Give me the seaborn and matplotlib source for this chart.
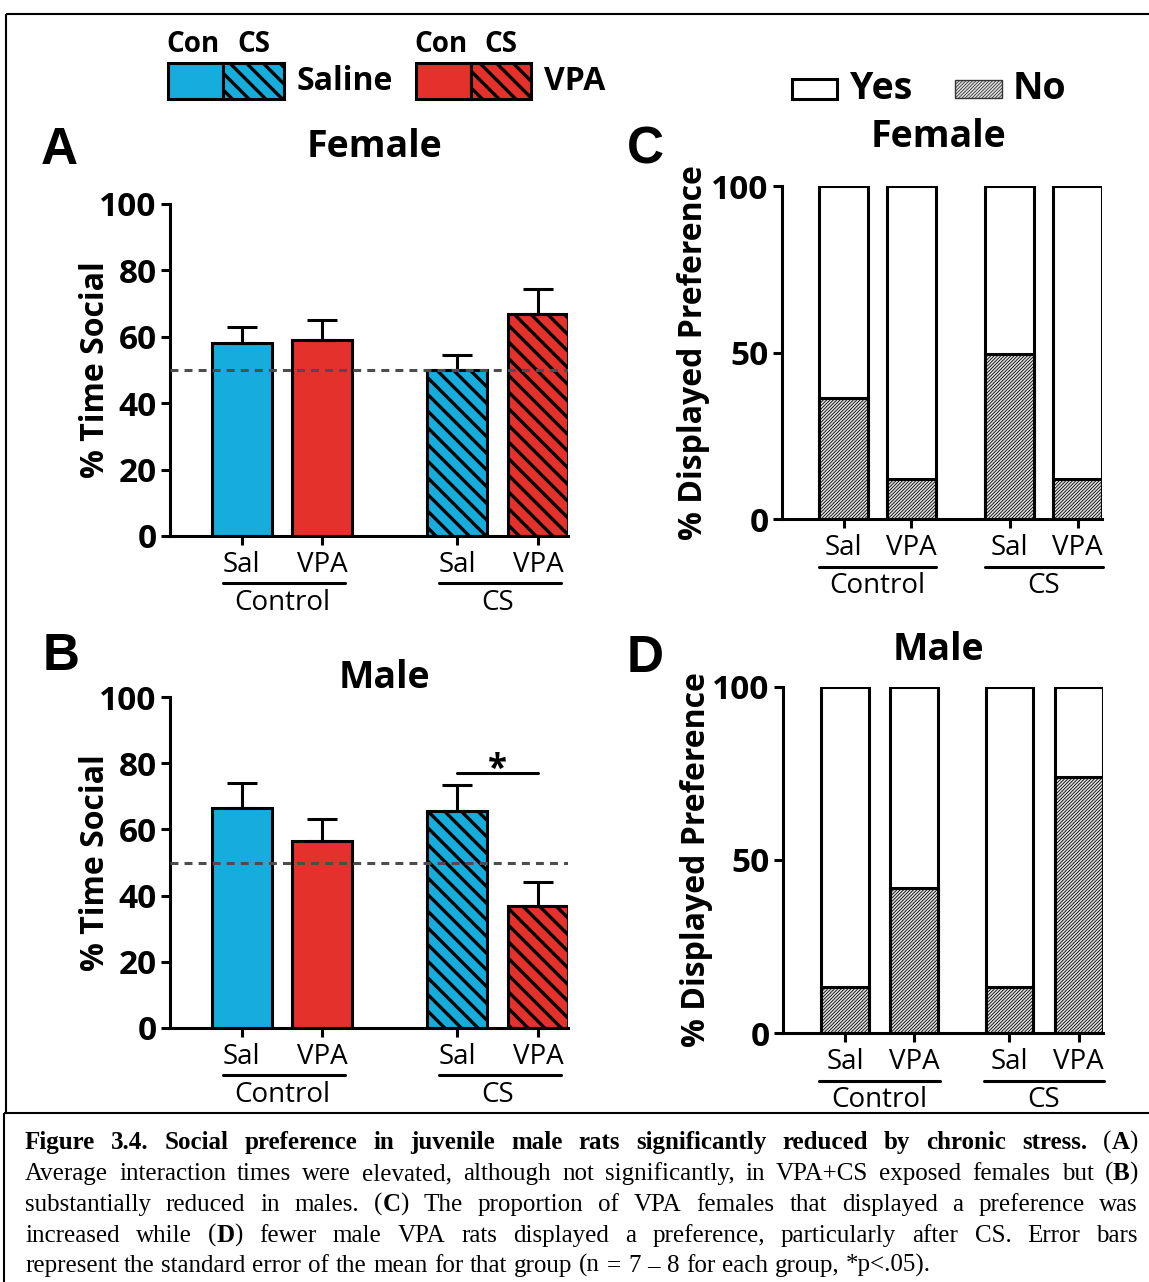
import numpy as np
import pandas as pd
import matplotlib
matplotlib.use("Agg")
import matplotlib.pyplot as plt
import matplotlib.transforms as mtransforms
from matplotlib.patches import Rectangle
from matplotlib.lines import Line2D
import seaborn as sns

# ---------------- data ----------------
treatments = ["Sal", "VPA", "Sal", "VPA"]
conditions = ["Control", "Control", "CS", "CS"]
group_names = ["Control", "CS"]

female_time_mean = [58.0, 59.0, 50.0, 67.0]
female_time_sem = [5.0, 6.0, 4.5, 7.5]
male_time_mean = [66.5, 56.5, 65.5, 37.0]
male_time_sem = [7.5, 6.5, 8.0, 7.0]
chance_level = 50

female_no_pct = [36.5, 12.0, 49.5, 12.0]
male_no_pct = [13.5, 42.0, 13.5, 74.0]

time_ticks = [0, 20, 40, 60, 80, 100]
pref_ticks = [0, 50, 100]
sig_label = "*"
sig_height = 77.0

caption_lines = [
    "§Figure 3.4. Social preference in juvenile male rats significantly reduced by chronic stress.§ (§A§)",
    "Average interaction times were elevated, although not significantly, in VPA+CS exposed females but (§B§)",
    "substantially reduced in males. (§C§) The proportion of VPA females that displayed a preference was",
    "increased while (§D§) fewer male VPA rats displayed a preference, particularly after CS. Error bars",
    "represent the standard error of the mean for that group (n = 7 – 8 for each group, *p<.05).",
]

# ---------------- style ----------------
sns.set_style("ticks")
plt.rcParams["font.family"] = ["Open Sans", "DejaVu Sans"]
for k in ("text.color", "axes.labelcolor", "xtick.color", "ytick.color"):
    plt.rcParams[k] = "black"
plt.rcParams["hatch.linewidth"] = 2.4
BLUE = "#16acdb"
RED = "#e4312b"
LW = 2.2
COARSE = 2.4
FINE = 0.6
FINE_FACE = "#e2e2e2"
FINE_HATCH = "//////////"
bar_colors = [BLUE, RED, BLUE, RED]
bar_hatch = ["", "", "\\\\", "\\\\"]

W, H = 1149, 1282
fig = plt.figure(figsize=(W / 100, H / 100), dpi=100)
fig.patch.set_facecolor("white")


def rect(x0, yt, x1, yb):
    return [x0 / W, 1 - yb / H, (x1 - x0) / W, (yb - yt) / H]


def set_hlw(p, lw):
    if hasattr(p, "set_hatch_linewidth"):
        p.set_hatch_linewidth(lw)


ov = fig.add_axes([0, 0, 1, 1])
ov.set_xlim(0, W)
ov.set_ylim(H, 0)
ov.axis("off")
ov.set_zorder(-1)


def style_axes(ax, yticks, xpos, xlim):
    sns.despine(ax=ax)
    ax.set_facecolor("none")
    ax.set_ylim(0, 100)
    ax.set_xlim(*xlim)
    ax.set_yticks(yticks)
    ax.set_yticklabels([str(t) for t in yticks], fontsize=24, fontweight="bold")
    ax.set_xticks(xpos)
    ax.set_xticklabels([""] * len(xpos))
    ax.tick_params(axis="both", width=LW, length=6.5, color="black", pad=3)
    for s in ("left", "bottom"):
        ax.spines[s].set_linewidth(LW)
        ax.spines[s].set_color("black")
    ax.set_xlabel("")


def group_labels(ax, xpos, under_l, under_r):
    blend = mtransforms.blended_transform_factory(ax.transData, ax.transAxes)
    for x, t in zip(xpos, treatments):
        ax.annotate(t, xy=(x, 0), xycoords=blend, xytext=(0, -21),
                    textcoords="offset points", ha="center", va="center",
                    fontsize=20, annotation_clip=False)
    for gi, g in enumerate(group_names):
        xa, xb = xpos[2 * gi], xpos[2 * gi + 1]
        tr = mtransforms.offset_copy(blend, fig=fig, y=-34, units="points")
        ax.add_line(Line2D([xa - under_l, xb + under_r], [0, 0], transform=tr,
                           color="black", lw=LW, clip_on=False))
        ax.annotate(g, xy=((xa + xb) / 2, 0), xycoords=blend, xytext=(0, -48),
                    textcoords="offset points", ha="center", va="center",
                    fontsize=20, annotation_clip=False)


def time_panel(box, means, sems, xpos, width, xlim, sig=False):
    ax = fig.add_axes(rect(*box))
    df = pd.DataFrame({"pos": xpos, "mean": means, "condition": conditions})
    n0 = len(ax.patches)
    sns.barplot(data=df, x="pos", y="mean", native_scale=True, width=width,
                errorbar=None, color="white", edgecolor="black", linewidth=LW,
                ax=ax, zorder=2)
    for b, c, h in zip(ax.patches[n0:], bar_colors, bar_hatch):
        b.set_facecolor(c)
        b.set_edgecolor("black")
        b.set_hatch(h)
        set_hlw(b, COARSE)
    ax.errorbar(xpos, means, yerr=[np.zeros(len(means)), sems], fmt="none",
                ecolor="black", elinewidth=LW, capsize=11, capthick=LW, zorder=3)
    ax.axhline(chance_level, color="#4d4d4d", lw=2.2, ls=(0, (2.6, 2.0)), zorder=4)
    if sig:
        ax.plot([xpos[2], xpos[3]], [sig_height, sig_height], color="black", lw=LW,
                zorder=4)
        ax.text((xpos[2] + xpos[3]) / 2, sig_height - 1.8, sig_label, ha="center",
                va="baseline", fontsize=25, fontweight="bold")
    style_axes(ax, time_ticks, xpos, xlim)
    ax.set_ylabel("% Time Social", fontsize=23, fontweight="bold")
    ax.yaxis.set_label_coords(-0.145, 0.5)
    group_labels(ax, xpos, 0.23, 0.28)
    ax.set_xlim(*xlim)
    return ax


def pref_panel(box, no_pct, xpos, width, xlim, label_x):
    ax = fig.add_axes(rect(*box))
    yes_pct = [100 - v for v in no_pct]
    total = [a + b for a, b in zip(no_pct, yes_pct)]
    df = pd.DataFrame({"pos": xpos, "total": total, "no": no_pct})
    sns.barplot(data=df, x="pos", y="total", native_scale=True, width=width,
                errorbar=None, color="white", edgecolor="black", linewidth=LW,
                ax=ax, zorder=2)
    for b in ax.patches:
        b.set_facecolor("white")
    n0 = len(ax.patches)
    with plt.rc_context({"hatch.linewidth": FINE}):
        sns.barplot(data=df, x="pos", y="no", native_scale=True, width=width,
                    errorbar=None, color="white", edgecolor="black", linewidth=LW,
                    ax=ax, zorder=3)
        for b in ax.patches[n0:]:
            b.set_facecolor(FINE_FACE)
            b.set_hatch(FINE_HATCH)
            set_hlw(b, FINE)
    style_axes(ax, pref_ticks, xpos, xlim)
    ax.set_ylabel("% Displayed Preference", fontsize=23, fontweight="bold")
    ax.yaxis.set_label_coords(label_x, 0.5)
    group_labels(ax, xpos, 0.37, 0.37)
    ax.set_xlim(*xlim)
    return ax


posAB = [0, 1, 2.673, 3.673]
time_panel((170, 204, 568, 536), female_time_mean, female_time_sem, posAB, 0.745,
           (-0.891, 4.0455))
time_panel((170, 697, 568, 1028), male_time_mean, male_time_sem, posAB, 0.745,
           (-0.891, 4.0455), sig=True)
pref_panel((781.7, 186, 1102, 519.3), female_no_pct, [0, 1, 2.46, 3.46], 0.725,
           (-0.917, 3.8225), -0.225)
pref_panel((782.7, 686.7, 1102.5, 1033.3), male_no_pct, [0, 1, 2.377, 3.377], 0.69,
           (-0.9, 3.722), -0.217)

# ---------------- titles / letters ----------------
for x, y, t in [(375, 147, "Female"), (384, 678, "Male"), (938, 137, "Female"),
                (938, 650, "Male")]:
    ov.text(x, y, t, ha="center", va="center", fontsize=27, fontweight="bold")
for x, y, t in [(59, 150, "A"), (61, 656, "B"), (645, 150, "C"), (645, 658, "D")]:
    ov.text(x, y, t, ha="center", va="center", fontsize=37, fontweight="bold",
            family="Liberation Sans")

# ---------------- legends ----------------
for (x0, xm, x1, col, name, xt) in [(168, 223, 284, BLUE, "Saline", 296),
                                     (416, 471, 531, RED, "VPA", 544)]:
    ov.add_patch(Rectangle((x0, 63), xm - x0, 36, facecolor=col, edgecolor="black",
                           lw=LW))
    hp = Rectangle((xm, 63), x1 - xm, 36, facecolor=col, edgecolor="black", lw=LW,
                   hatch="\\\\")
    set_hlw(hp, COARSE)
    ov.add_patch(hp)
    ov.text(xt, 81, name, ha="left", va="center", fontsize=23, fontweight="bold")
    ov.text((x0 + xm) / 2 - 2, 44, "Con", ha="center", va="center", fontsize=20,
            fontweight="bold")
    ov.text((xm + x1) / 2, 44, "CS", ha="center", va="center", fontsize=20,
            fontweight="bold")

ov.add_patch(Rectangle((792, 79), 45, 20, facecolor="white", edgecolor="black", lw=LW))
ov.text(850, 89, "Yes", ha="left", va="center", fontsize=27, fontweight="bold")
with plt.rc_context({"hatch.linewidth": FINE}):
    np_ = Rectangle((955, 80), 47, 18, facecolor=FINE_FACE, edgecolor="#333333",
                    lw=1.0, hatch=FINE_HATCH)
    set_hlw(np_, FINE)
    ov.add_patch(np_)
ov.text(1013, 89, "No", ha="left", va="center", fontsize=27, fontweight="bold")

# ---------------- borders ----------------
bk = dict(color="black", lw=1.5, solid_capstyle="butt")
ov.plot([6, W], [14, 14], **bk)
ov.plot([6, 6], [14, 1113], **bk)
ov.plot([4, W], [1113, 1113], **bk)
ov.plot([4, 4], [1113, H], **bk)


# ---------------- caption (justified) ----------------
def parse(line):
    bold = False
    words, cur = [], []
    for ch in line:
        if ch == "§":
            bold = not bold
            continue
        if ch == " ":
            if cur:
                words.append(cur)
                cur = []
        else:
            cur.append((ch, bold))
    if cur:
        words.append(cur)
    out = []
    for w in words:
        segs = []
        for ch, b in w:
            if segs and segs[-1][1] == b:
                segs[-1][0] += ch
            else:
                segs.append([ch, b])
        out.append(segs)
    return out


renderer = fig.canvas.get_renderer()


def seg_width(s, b, fs):
    t = ov.text(0, 0, s, fontsize=fs, family="Liberation Serif",
                fontweight="bold" if b else "normal")
    w = t.get_window_extent(renderer).width
    t.remove()
    return w


parsed = [parse(l) for l in caption_lines]
left, right = 25, 1138
avail = right - left
fs = 18.0
while fs > 10:
    ok = True
    for words in parsed[:-1]:
        tot = sum(seg_width(s, b, fs) for w in words for s, b in w)
        if tot + (len(words) - 1) * 0.2 * fs * 100 / 72 > avail:
            ok = False
            break
    if ok:
        break
    fs -= 0.25

baselines = [1149, 1180, 1211, 1242, 1272]
for li, (words, yb) in enumerate(zip(parsed, baselines)):
    widths = [[seg_width(s, b, fs) for s, b in w] for w in words]
    tot = sum(sum(w) for w in widths)
    if li < len(parsed) - 1:
        gap = (avail - tot) / (len(words) - 1)
    else:
        gap = 0.27 * fs * 100 / 72
    x = left
    for w, ws in zip(words, widths):
        for (s, b), sw in zip(w, ws):
            ov.text(x, yb, s, ha="left", va="baseline", fontsize=fs,
                    family="Liberation Serif", fontweight="bold" if b else "normal")
            x += sw
        x += gap

fig.savefig("out.png", dpi=100, facecolor="white")
